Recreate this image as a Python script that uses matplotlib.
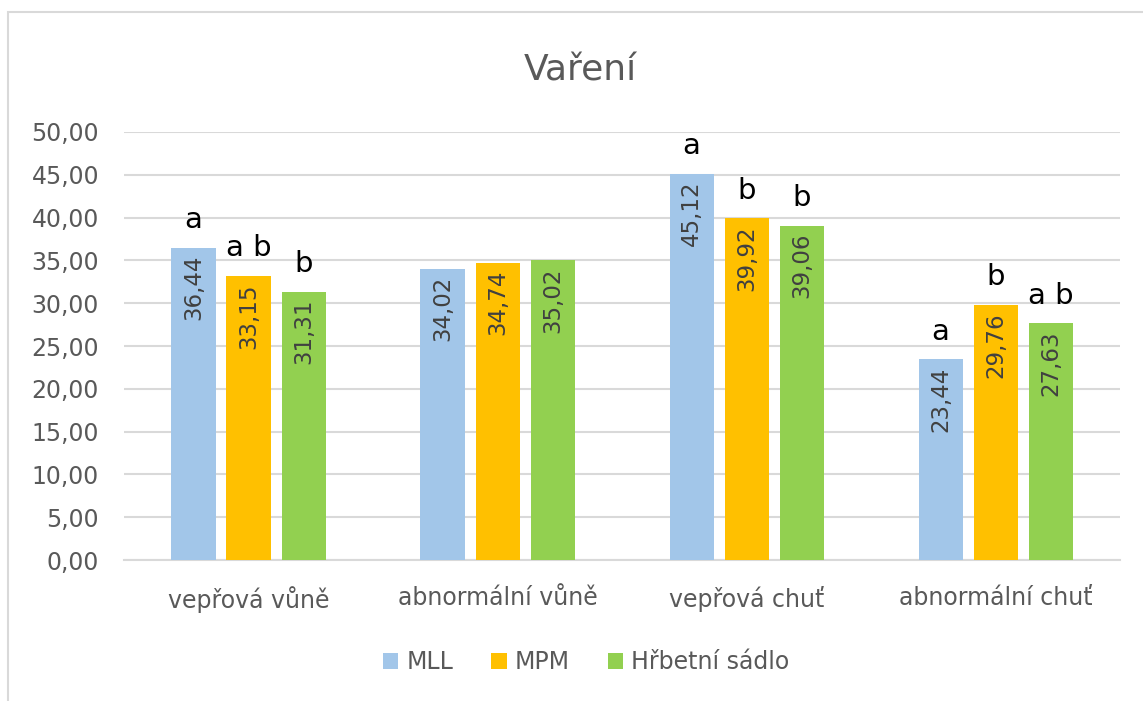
import numpy as np
import matplotlib.pyplot as plt
from matplotlib.patches import Rectangle

plt.rcParams['font.family'] = ['DejaVu Sans']

# data
categories = ['vepřová vůně', 'abnormální vůně', 'vepřová chuť', 'abnormální chuť']
series_names = ['MLL', 'MPM', 'Hřbetní sádlo']
mll = [36.44, 34.02, 45.12, 23.44]
mpm = [33.15, 34.74, 39.92, 29.76]
hrbet = [31.31, 35.02, 39.06, 27.63]
letters_mll = ['a', '', 'a', 'a']
letters_mpm = ['a b', '', 'b', 'b']
letters_hrbet = ['b', '', 'b', 'a b']

colors = ['#A2C6E9', '#FFC000', '#92D050']
grey_text = '#595959'

fig = plt.figure(figsize=(11.43, 7.01), dpi=100)
ax = fig.add_axes([0.1085, 0.2011, 0.8715, 0.6106])

x = np.arange(len(categories))
width = 0.177
step = 0.221

all_vals = [mll, mpm, hrbet]
all_letters = [letters_mll, letters_mpm, letters_hrbet]
for i, (vals, lets) in enumerate(zip(all_vals, all_letters)):
    pos = x + (i - 1) * step
    bars = ax.bar(pos, vals, width, color=colors[i], label=series_names[i], zorder=3)
    for b, v, l in zip(bars, vals, lets):
        cx = b.get_x() + b.get_width() / 2
        ax.annotate(f'{v:.2f}'.replace('.', ','), (cx, v), xytext=(0, -5),
                    textcoords='offset points', rotation=90, ha='center', va='top',
                    fontsize=16.5, color='#404040', zorder=4)
        if l:
            ax.annotate(l, (cx, v), xytext=(0, 20), textcoords='offset points',
                        ha='center', va='center', fontsize=21, color='black')

ax.set_xlim(-0.5, len(categories) - 0.5)
ax.set_ylim(0, 50)
ax.set_yticks(np.arange(0, 51, 5))
ax.set_yticklabels([f'{t:.2f}'.replace('.', ',') for t in np.arange(0, 51, 5)])
ax.set_xticks(x)
ax.set_xticklabels(categories)
ax.tick_params(axis='both', length=0, labelsize=17, colors=grey_text)
ax.tick_params(axis='y', pad=18)
ax.tick_params(axis='x', pad=19)
ax.yaxis.grid(True, color='#D9D9D9', linewidth=1.5, zorder=0)
for s in ['top', 'right', 'left']:
    ax.spines[s].set_visible(False)
ax.spines['bottom'].set_color('#D9D9D9')
ax.spines['bottom'].set_linewidth(1.5)

fig.text(0.508, 0.90, 'Vaření', ha='center', va='center', fontsize=26, color=grey_text)

fig.legend(loc='center', bbox_to_anchor=(0.513, 0.055), ncol=3, frameon=False,
           fontsize=17, labelcolor=grey_text, handlelength=0.65, handleheight=0.65,
           handletextpad=0.35, columnspacing=1.6)

fig.patches.append(Rectangle((0.007, -0.05), 1.2, 1.033, transform=fig.transFigure,
                             fill=False, edgecolor='#D9D9D9', linewidth=1.5))

fig.savefig('out.png', dpi=100)
